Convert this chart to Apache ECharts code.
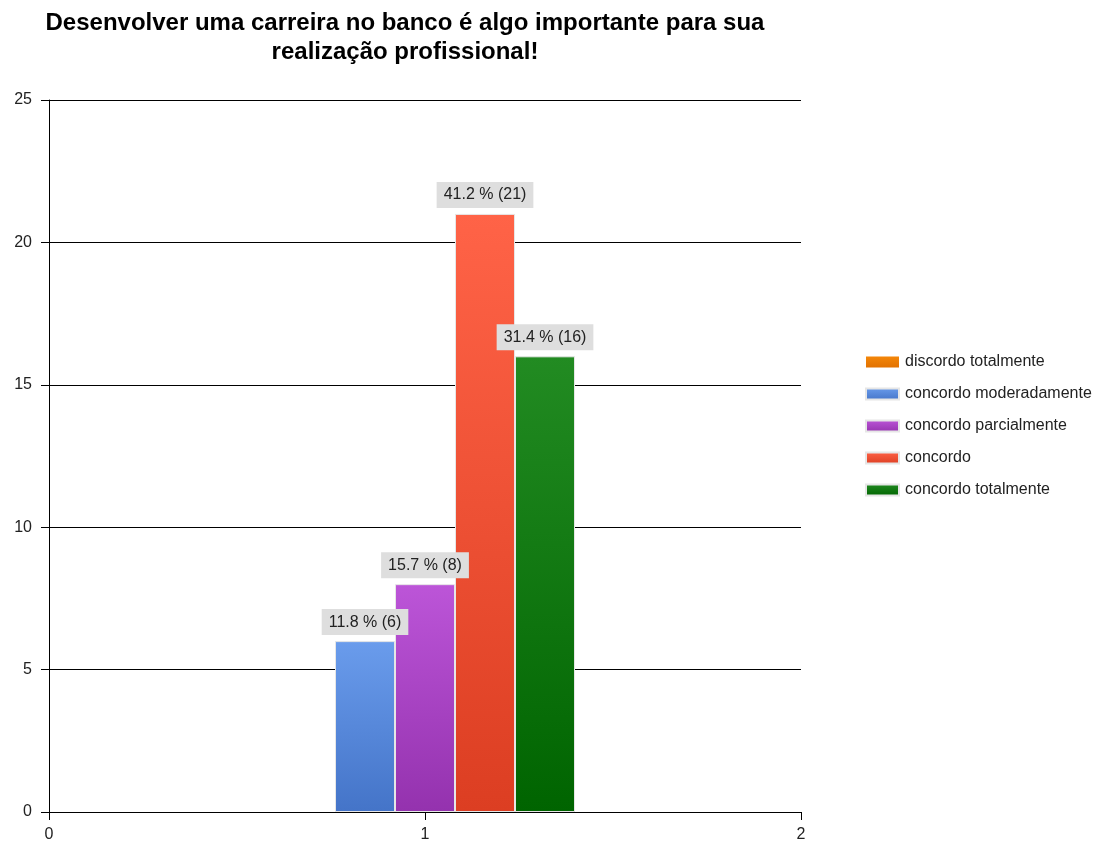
<!DOCTYPE html>
<html>
<head>
<meta charset="utf-8">
<script src="https://cdn.jsdelivr.net/npm/echarts@6/dist/echarts.min.js"></script>
<style>
html,body{margin:0;padding:0;background:#fff;}
#chart{width:1106px;height:843px;}
</style>
</head>
<body>
<div id="chart"></div>
<script>
const titleText = 'Desenvolver uma carreira no banco é algo importante para sua\nrealização profissional!';
const seriesNames = ['discordo totalmente', 'concordo moderadamente', 'concordo parcialmente', 'concordo', 'concordo totalmente'];
const seriesValues = [0, 6, 8, 21, 16];
const seriesPercents = [0, 11.8, 15.7, 41.2, 31.4];
const xPosition = 1;
const seriesTop = ['#f5880a', '#6a9cec', '#bc55d8', '#ff6347', '#228b22'];
const seriesBottom = ['#e07000', '#4474c8', '#9432ae', '#dc3e22', '#006400'];

const chart = echarts.init(document.getElementById('chart'));
const font = 'Liberation Sans, Arial, sans-serif';

const series = seriesNames.map((name, i) => ({
  name: name,
  type: 'bar',
  barWidth: 60,
  barGap: '0%',
  data: [[xPosition, seriesValues[i]]],
  z: 3,
  itemStyle: {
    color: new echarts.graphic.LinearGradient(0, 0, 0, 1, [
      {offset: 0, color: seriesTop[i]},
      {offset: 1, color: seriesBottom[i]}
    ]),
    borderColor: seriesValues[i] > 0 ? '#e6e6e6' : 'rgba(0,0,0,0)',
    borderWidth: 1
  },
  label: {
    show: seriesValues[i] > 0,
    position: 'top',
    distance: 6,
    formatter: () => seriesPercents[i].toFixed(1) + ' % (' + seriesValues[i] + ')',
    backgroundColor: '#dedede',
    color: '#222',
    fontFamily: font,
    fontSize: 16,
    lineHeight: 18,
    padding: [4, 7, 4, 7]
  }
}));

chart.setOption({
  animation: false,
  backgroundColor: '#fff',
  title: {
    text: titleText,
    left: 400,
    top: 4,
    textAlign: 'center',
    textStyle: {fontFamily: font, fontWeight: 'bold', fontSize: 24, color: '#000', lineHeight: 29}
  },
  legend: {
    orient: 'vertical',
    left: 860,
    top: 349,
    itemWidth: 33,
    itemHeight: 11,
    itemGap: 16,
    icon: 'rect',
    textStyle: {fontFamily: font, fontSize: 16, lineHeight: 16, color: '#222', padding: [0, 0, 0, 1]},
    data: seriesNames
  },
  grid: {left: 49, right: 305, top: 100, bottom: 31, containLabel: false},
  xAxis: {
    type: 'value',
    min: 0, max: 2, interval: 1,
    splitLine: {show: false},
    axisLine: {show: true, lineStyle: {color: '#000', width: 1}},
    axisTick: {show: true, length: 8, lineStyle: {color: '#000'}},
    axisLabel: {fontFamily: font, fontSize: 16, color: '#222', margin: 15}
  },
  yAxis: {
    type: 'value',
    min: 0, max: 25, interval: 5,
    splitLine: {show: true, lineStyle: {color: '#000', width: 1}},
    axisLine: {show: true, lineStyle: {color: '#000', width: 1}},
    axisTick: {show: true, length: 8, lineStyle: {color: '#000'}},
    axisLabel: {fontFamily: font, fontSize: 16, color: '#222', margin: 17}
  },
  series: series
});
</script>
</body>
</html>
